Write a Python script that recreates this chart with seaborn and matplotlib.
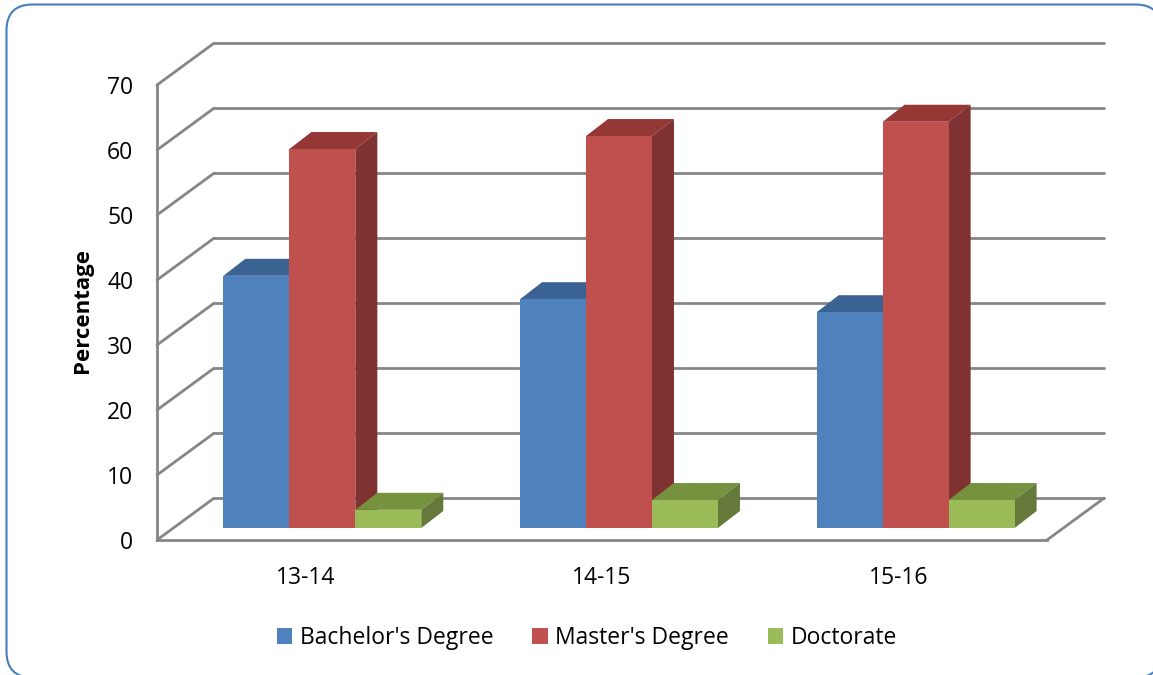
import matplotlib
matplotlib.use("Agg")
import matplotlib.pyplot as plt
from matplotlib.patches import FancyBboxPatch, Polygon, Patch
import pandas as pd
import seaborn as sns

years = ["13-14", "14-15", "15-16"]
degrees = ["Bachelor's Degree", "Master's Degree", "Doctorate"]
bachelor = [38.8, 35.2, 33.2]
master = [58.3, 60.3, 62.5]
doctorate = [2.8, 4.3, 4.3]
y_ticks = [0, 10, 20, 30, 40, 50, 60, 70]
front = ["#4F81BD", "#C0504D", "#9BBB59"]
top = ["#3A6293", "#953735", "#77923F"]
side = ["#2F4F78", "#7F3231", "#64793A"]

W, H = 1153, 675
sns.set_theme(style="white")
plt.rcParams["font.family"] = ["Open Sans", "DejaVu Sans"]

def rect(l, t, r, b):
    return [l / W, 1 - b / H, (r - l) / W, (b - t) / H]

fig = plt.figure(figsize=(W / 100, H / 100), dpi=100, facecolor="white")
bg = fig.add_axes([0, 0, 1, 1])
bg.set_xlim(0, W); bg.set_ylim(H, 0); bg.axis("off")
bg.add_patch(FancyBboxPatch((6.5, 4.5), 1155, 673, boxstyle="round,pad=0,rounding_size=26",
                            fc="white", ec="#4A7EBB", lw=1.5, clip_on=True))

ax = fig.add_axes(rect(157, 85, 1047, 540))
ax.patch.set_alpha(0)
ax.set_xlim(-0.5, 2.5); ax.set_ylim(0, 70)
ax.set_xticks(range(3)); ax.set_xticklabels(years)
ax.set_yticks(y_ticks)
ax.tick_params(axis="both", labelsize=16.5, colors="black", length=0, pad=19)
ax.tick_params(axis="y", length=6, width=1.5, color="#868686", pad=11, direction="out")
ax.set_ylabel("Percentage", fontsize=16, fontweight="bold", color="black", labelpad=10, y=0.505)
for s in ["top", "right"]:
    ax.spines[s].set_visible(False)
for s in ["left", "bottom"]:
    ax.spines[s].set_color("#868686"); ax.spines[s].set_linewidth(2)

ddx, ddy = 57 / (890 / 3), 41.8 / 6.5
grid = dict(color="#868686", lw=2, clip_on=False, zorder=1, solid_capstyle="round")
for v in y_ticks:
    ax.plot([-0.5, -0.5 + ddx], [v, v + ddy], **grid)
    ax.plot([-0.5 + ddx, 2.5 + ddx], [v + ddy, v + ddy], **grid)
ax.plot([2.5, 2.5 + ddx], [0, ddy], **grid)

bars = fig.add_axes(rect(174, 73, 1064, 528))
bars.patch.set_alpha(0)
df = pd.DataFrame({"year": years * 3,
                   "degree": sum([[d] * 3 for d in degrees], []),
                   "value": bachelor + master + doctorate})
sns.barplot(df, x="year", y="value", hue="degree", hue_order=degrees, order=years,
            palette=front, width=0.667, gap=0, saturation=1, legend=False, ax=bars, zorder=5)
bars.set_xlim(-0.5, 2.5); bars.set_ylim(0, 70)
bars.axis("off")

bdx, bdy = 22 / (890 / 3), 17 / 6.5
for i in range(3):
    for j, c in enumerate(bars.containers):
        p = c.patches[i]
        x0, x1, h = p.get_x(), p.get_x() + p.get_width(), p.get_height()
        z = 5 + i * 3 + j
        p.set_zorder(z + 0.5)
        p.set_linewidth(0)
        bars.add_patch(Polygon([(x0, h), (x0 + bdx, h + bdy), (x1 + bdx, h + bdy), (x1, h)],
                               fc=top[j], ec="none", zorder=z, clip_on=False))
        bars.add_patch(Polygon([(x1, 0), (x1 + bdx, bdy), (x1 + bdx, h + bdy), (x1, h)],
                               fc=side[j], ec="none", zorder=z, clip_on=False))

handles = [Patch(fc=c, ec="none") for c in front]
fig.legend(handles, degrees, loc="center", bbox_to_anchor=(587 / W, 1 - 638 / H), ncol=3,
           frameon=False, fontsize=16.5, handlelength=0.66, handleheight=0.66,
           handletextpad=0.33, columnspacing=1.7, labelcolor="black")
fig.savefig("out.png", dpi=100)
